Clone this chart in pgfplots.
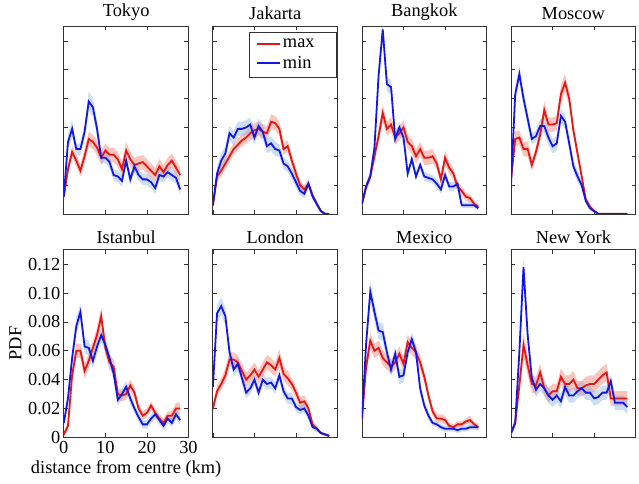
\documentclass[border=0pt]{standalone}
\usepackage{fontspec}
\setmainfont{Liberation Serif}
\usepackage{pgfplots}
\usepackage{pgfplotstable}
\pgfplotsset{compat=1.18}
\usepgfplotslibrary{groupplots,fillbetween}

\definecolor{maxred}{RGB}{228,22,22}
\definecolor{minblue}{RGB}{22,22,228}
\definecolor{bandred}{RGB}{240,110,90}
\definecolor{bandblue}{RGB}{110,160,220}
\newcommand{\fs}{\fontsize{18.5}{21}\selectfont}

% columns: distance, max (r) with band half-width, min (b) with band half-width
\pgfplotstableread{
k r re b be
0 0.012 0.003 0.012 0.003
1 0.031 0.004 0.050 0.005
2 0.043 0.004 0.059 0.006
3 0.037 0.004 0.045 0.004
4 0.030 0.004 0.045 0.004
5 0.040 0.005 0.057 0.005
6 0.052 0.005 0.078 0.007
7 0.050 0.005 0.074 0.006
8 0.046 0.005 0.059 0.005
9 0.039 0.005 0.039 0.004
10 0.044 0.005 0.039 0.004
11 0.041 0.005 0.036 0.004
12 0.041 0.005 0.027 0.004
13 0.038 0.005 0.026 0.004
14 0.031 0.005 0.023 0.004
15 0.044 0.006 0.037 0.004
16 0.038 0.005 0.024 0.004
17 0.034 0.005 0.033 0.004
18 0.035 0.005 0.027 0.004
19 0.036 0.005 0.024 0.004
20 0.033 0.005 0.024 0.004
21 0.030 0.005 0.022 0.004
22 0.027 0.005 0.018 0.004
23 0.033 0.005 0.027 0.004
24 0.029 0.005 0.026 0.004
25 0.034 0.005 0.029 0.004
26 0.037 0.005 0.027 0.004
27 0.032 0.005 0.025 0.004
28 0.027 0.005 0.017 0.004
}\tokyo

\pgfplotstableread{
k r re b be
0 0.006 0.003 0.006 0.003
1 0.026 0.004 0.028 0.004
2 0.030 0.004 0.037 0.005
3 0.035 0.004 0.042 0.005
4 0.040 0.004 0.056 0.005
5 0.045 0.004 0.053 0.005
6 0.048 0.004 0.059 0.005
7 0.051 0.004 0.059 0.005
8 0.053 0.004 0.060 0.005
9 0.056 0.005 0.062 0.005
10 0.058 0.005 0.053 0.005
11 0.059 0.005 0.061 0.005
12 0.057 0.005 0.057 0.005
13 0.056 0.005 0.047 0.005
14 0.064 0.005 0.049 0.005
15 0.063 0.005 0.045 0.005
16 0.059 0.005 0.044 0.004
17 0.045 0.004 0.035 0.004
18 0.047 0.004 0.033 0.004
19 0.037 0.004 0.028 0.004
20 0.028 0.004 0.022 0.004
21 0.020 0.003 0.016 0.003
22 0.017 0.003 0.014 0.003
23 0.021 0.003 0.021 0.003
24 0.013 0.002 0.012 0.002
25 0.007 0.002 0.007 0.002
26 0.002 0.001 0.002 0.001
27 0.000 0.001 0.000 0.001
28 0.000 0.001 0.000 0.001
}\jakarta

\pgfplotstableread{
k r re b be
0 0.007 0.002 0.007 0.002
1 0.019 0.003 0.019 0.003
2 0.026 0.003 0.026 0.003
3 0.040 0.004 0.046 0.004
4 0.054 0.005 0.096 0.005
5 0.070 0.006 0.128 0.005
6 0.059 0.005 0.090 0.005
7 0.062 0.005 0.088 0.005
8 0.053 0.005 0.052 0.004
9 0.056 0.005 0.060 0.004
10 0.060 0.005 0.053 0.004
11 0.050 0.005 0.028 0.003
12 0.047 0.005 0.038 0.003
13 0.040 0.005 0.026 0.003
14 0.045 0.005 0.034 0.003
15 0.039 0.005 0.026 0.003
16 0.039 0.005 0.025 0.003
17 0.040 0.005 0.024 0.003
18 0.035 0.004 0.021 0.003
19 0.024 0.004 0.017 0.003
20 0.039 0.005 0.027 0.003
21 0.032 0.004 0.019 0.003
22 0.028 0.004 0.019 0.003
23 0.019 0.003 0.021 0.003
24 0.016 0.003 0.006 0.002
25 0.012 0.003 0.006 0.002
26 0.011 0.003 0.006 0.002
27 0.007 0.002 0.006 0.002
28 0.005 0.002 0.004 0.002
}\bangkok

\pgfplotstableread{
k r re b be
0 0.024 0.003 0.021 0.003
1 0.052 0.005 0.083 0.005
2 0.053 0.005 0.097 0.006
3 0.045 0.005 0.080 0.005
4 0.045 0.005 0.066 0.005
5 0.034 0.004 0.052 0.004
6 0.043 0.004 0.054 0.004
7 0.055 0.005 0.061 0.005
8 0.072 0.006 0.061 0.005
9 0.062 0.005 0.053 0.005
10 0.062 0.005 0.047 0.005
11 0.063 0.005 0.049 0.005
12 0.083 0.006 0.068 0.005
13 0.091 0.006 0.064 0.005
14 0.080 0.005 0.049 0.005
15 0.058 0.004 0.033 0.004
16 0.042 0.004 0.026 0.004
17 0.026 0.003 0.020 0.003
18 0.010 0.002 0.009 0.002
19 0.005 0.002 0.004 0.002
20 0.002 0.001 0.002 0.001
21 0.000 0.001 0.000 0.001
22 0.000 0.001 0.000 0.001
23 0.000 0.001 0.000 0.001
24 0.000 0.001 0.000 0.001
25 0.000 0.001 0.000 0.001
26 0.000 0.001 0.000 0.001
27 0.000 0.001 0.000 0.001
28 0.000 0.001 0.000 0.001
}\moscow

\pgfplotstableread{
k r re b be
0 0.002 0.002 0.010 0.003
1 0.008 0.003 0.027 0.004
2 0.043 0.004 0.055 0.005
3 0.060 0.005 0.077 0.006
4 0.060 0.005 0.087 0.006
5 0.046 0.005 0.063 0.005
6 0.053 0.005 0.062 0.005
7 0.062 0.005 0.053 0.005
8 0.071 0.005 0.063 0.005
9 0.084 0.006 0.071 0.005
10 0.062 0.005 0.064 0.005
11 0.052 0.005 0.055 0.005
12 0.049 0.005 0.044 0.004
13 0.030 0.004 0.026 0.004
14 0.029 0.004 0.030 0.004
15 0.030 0.004 0.035 0.004
16 0.036 0.004 0.027 0.004
17 0.031 0.004 0.020 0.003
18 0.020 0.003 0.014 0.003
19 0.015 0.003 0.009 0.003
20 0.017 0.003 0.009 0.003
21 0.022 0.003 0.013 0.003
22 0.017 0.003 0.016 0.003
23 0.013 0.003 0.012 0.003
24 0.010 0.003 0.008 0.003
25 0.015 0.003 0.013 0.003
26 0.015 0.003 0.010 0.003
27 0.020 0.004 0.016 0.003
28 0.020 0.004 0.012 0.003
}\istanbul

\pgfplotstableread{
k r re b be
0 0.020 0.004 0.035 0.005
1 0.032 0.004 0.086 0.006
2 0.037 0.004 0.091 0.006
3 0.043 0.005 0.084 0.006
4 0.054 0.005 0.059 0.005
5 0.054 0.005 0.047 0.005
6 0.052 0.005 0.051 0.005
7 0.046 0.005 0.041 0.004
8 0.040 0.005 0.031 0.004
9 0.043 0.005 0.034 0.004
10 0.047 0.005 0.040 0.004
11 0.042 0.005 0.031 0.004
12 0.047 0.005 0.040 0.004
13 0.052 0.005 0.037 0.004
14 0.050 0.005 0.038 0.004
15 0.047 0.005 0.034 0.004
16 0.055 0.006 0.043 0.004
17 0.044 0.005 0.032 0.004
18 0.041 0.005 0.027 0.004
19 0.037 0.004 0.027 0.004
20 0.031 0.004 0.021 0.003
21 0.024 0.004 0.019 0.003
22 0.025 0.004 0.020 0.003
23 0.020 0.003 0.015 0.003
24 0.009 0.002 0.007 0.002
25 0.006 0.002 0.006 0.002
26 0.003 0.001 0.003 0.001
27 0.002 0.001 0.002 0.001
28 0.001 0.001 0.001 0.001
}\london

\pgfplotstableread{
k r re b be
0 0.013 0.003 0.013 0.003
1 0.049 0.005 0.065 0.006
2 0.067 0.006 0.101 0.007
3 0.060 0.005 0.087 0.006
4 0.062 0.005 0.074 0.006
5 0.055 0.005 0.073 0.006
6 0.052 0.005 0.059 0.005
7 0.049 0.005 0.047 0.005
8 0.052 0.005 0.058 0.005
9 0.058 0.005 0.042 0.005
10 0.051 0.005 0.043 0.005
11 0.066 0.005 0.059 0.005
12 0.062 0.005 0.068 0.005
13 0.059 0.005 0.059 0.005
14 0.052 0.005 0.034 0.004
15 0.042 0.004 0.022 0.003
16 0.029 0.004 0.015 0.003
17 0.018 0.003 0.010 0.002
18 0.013 0.003 0.009 0.002
19 0.013 0.003 0.007 0.002
20 0.012 0.003 0.006 0.002
21 0.008 0.002 0.006 0.002
22 0.007 0.002 0.006 0.002
23 0.009 0.002 0.005 0.002
24 0.009 0.002 0.006 0.002
25 0.011 0.002 0.006 0.002
26 0.012 0.003 0.007 0.002
27 0.009 0.002 0.007 0.002
28 0.007 0.002 0.007 0.002
}\mexico

\pgfplotstableread{
k r re b be
0 0.003 0.002 0.003 0.002
1 0.010 0.003 0.010 0.003
2 0.036 0.005 0.059 0.006
3 0.064 0.008 0.118 0.007
4 0.050 0.007 0.071 0.006
5 0.037 0.006 0.041 0.005
6 0.036 0.006 0.033 0.005
7 0.045 0.006 0.037 0.005
8 0.034 0.005 0.034 0.005
9 0.029 0.005 0.029 0.005
10 0.032 0.005 0.026 0.005
11 0.032 0.005 0.029 0.005
12 0.042 0.006 0.025 0.005
13 0.037 0.006 0.035 0.005
14 0.037 0.006 0.029 0.005
15 0.040 0.006 0.029 0.005
16 0.034 0.005 0.032 0.005
17 0.034 0.005 0.034 0.005
18 0.036 0.006 0.031 0.005
19 0.037 0.006 0.031 0.005
20 0.037 0.006 0.027 0.005
21 0.040 0.006 0.028 0.005
22 0.043 0.006 0.031 0.005
23 0.045 0.006 0.031 0.005
24 0.027 0.005 0.039 0.005
25 0.027 0.005 0.024 0.005
26 0.027 0.005 0.024 0.005
27 0.027 0.005 0.024 0.005
28 0.027 0.005 0.021 0.005
}\newyork

\newcommand{\bands}[1]{%
  \addplot[name path=ru, draw=none, forget plot] table[x=k, y expr=\thisrow{r}+\thisrow{re}] {#1};
  \addplot[name path=rl, draw=none, forget plot] table[x=k, y expr=\thisrow{r}-\thisrow{re}] {#1};
  \addplot[fill=bandred, fill opacity=0.4, draw=none, forget plot] fill between[of=ru and rl];
  \addplot[name path=bu, draw=none, forget plot] table[x=k, y expr=\thisrow{b}+\thisrow{be}] {#1};
  \addplot[name path=bl, draw=none, forget plot] table[x=k, y expr=\thisrow{b}-\thisrow{be}] {#1};
  \addplot[fill=bandblue, fill opacity=0.35, draw=none, forget plot] fill between[of=bu and bl];
}
\newcommand{\city}[1]{%
  \bands{#1}
  \addplot[maxred, line width=1.8bp] table[x=k, y=r] {#1};
  \addplot[minblue, line width=1.8bp] table[x=k, y=b] {#1};
}

\begin{document}
\begin{tikzpicture}
\begin{groupplot}[
  group style={group size=4 by 2, horizontal sep=24.5bp, vertical sep=36bp},
  scale only axis, width=125bp, height=188bp,
  xmin=0, xmax=30, ymin=0, ymax=0.13,
  xtick={0,10,20,30}, ytick={0,0.02,0.04,0.06,0.08,0.10,0.12},
  xticklabels={}, yticklabels={},
  tick align=inside, major tick length=4bp,
  axis line style={draw=black!80, line width=0.9bp},
  every tick/.style={black!80, line width=0.7bp},
  title style={font=\fs, yshift=-3bp},
  tick label style={font=\fs},
  label style={font=\fs},
  legend style={draw=black!80, line width=0.7bp, at={(0.995,0.972)}, anchor=north east,
    legend cell align=left, inner xsep=7bp, inner ysep=5bp, row sep=3bp,
    nodes={font=\fs, inner sep=2bp}},
  legend image code/.code={\draw[#1, line width=1.8bp] (0bp,0bp) -- (23bp,0bp);},
]
\nextgroupplot[title={Tokyo}]
\city{\tokyo}
\nextgroupplot[title={Jakarta}]
\bands{\jakarta}
\addplot[maxred, line width=1.8bp] table[x=k, y=r] {\jakarta};
\addlegendentry{max\kern13bp}
\addplot[minblue, line width=1.8bp] table[x=k, y=b] {\jakarta};
\addlegendentry{min\kern13bp}
\nextgroupplot[title={Bangkok}]
\city{\bangkok}
\nextgroupplot[title={Moscow}]
\city{\moscow}
\nextgroupplot[title={Istanbul}, xticklabels={0,10,20,30},
  yticklabels={0,0.02,0.04,0.06,0.08,0.10,0.12},
  xlabel={distance from centre (km)}, ylabel={PDF}]
\city{\istanbul}
\nextgroupplot[title={London}]
\city{\london}
\nextgroupplot[title={Mexico}]
\city{\mexico}
\nextgroupplot[title={New York}]
\city{\newyork}
\end{groupplot}
\path ([shift={(-64bp,-46bp)}]group c1r2.south west) rectangle ([shift={(3bp,23bp)}]group c4r1.north east);
\end{tikzpicture}
\end{document}
